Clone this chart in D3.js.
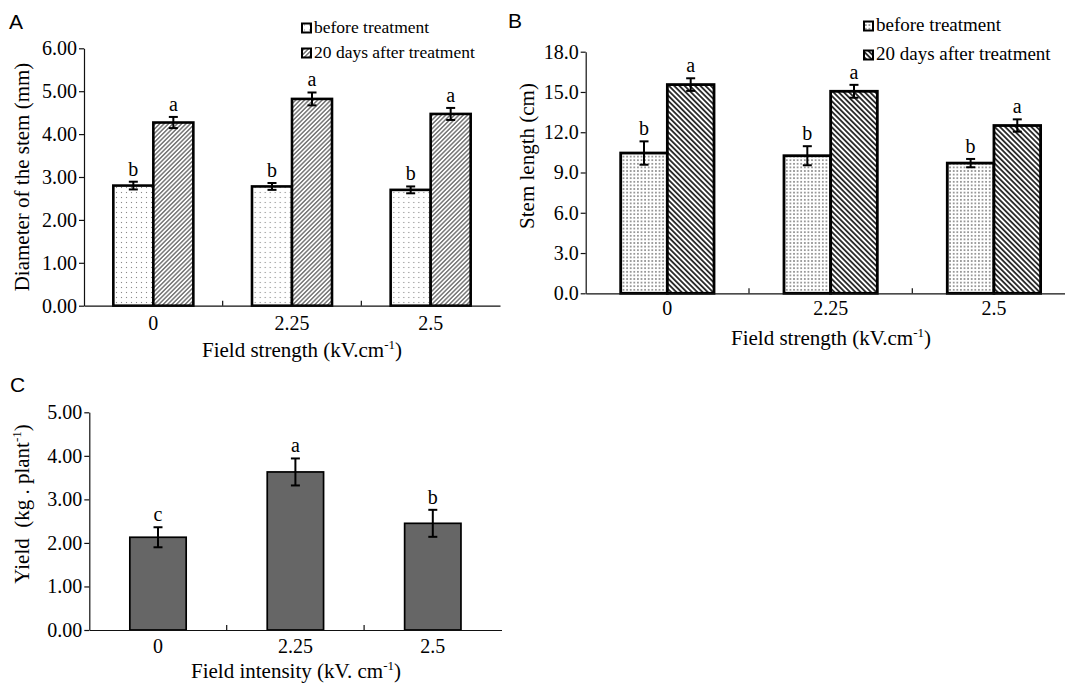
<!DOCTYPE html>
<html>
<head>
<meta charset="utf-8">
<script src="https://cdn.jsdelivr.net/npm/d3@7"></script>
<style>
  body { margin: 0; background: #fff; }
  text { font-family: "Liberation Serif", "Times New Roman", serif; fill: #000; }
  .panel-letter { font-family: "Liberation Sans", Arial, sans-serif; font-size: 21px; }
  .axis text { font-family: "Liberation Serif", "Times New Roman", serif; font-size: 20px; fill: #000; }
  .axis path, .axis line { stroke: #111; stroke-width: 1.2; }
  .axis-label { font-size: 21px; white-space: pre; }
</style>
</head>
<body>
<div id="chart"></div>
<script>
// ---- data ----
const categories = ["0", "2.25", "2.5"];
const seriesNames = ["before treatment", "20 days after treatment"];

// A: diameter of the stem (mm)
const diamBefore = [2.80, 2.78, 2.70];
const diamBeforeErr = [0.09, 0.08, 0.08];
const diamAfter = [4.27, 4.82, 4.47];
const diamAfterErr = [0.13, 0.15, 0.14];
const diamTicks = [0, 1, 2, 3, 4, 5, 6];

// B: stem length (cm)
const stemBefore = [10.45, 10.25, 9.70];
const stemBeforeErr = [0.87, 0.71, 0.31];
const stemAfter = [15.55, 15.05, 12.50];
const stemAfterErr = [0.47, 0.48, 0.46];
const stemTicks = [0, 3, 6, 9, 12, 15, 18];

// letters of significance
const beforeLetters = ["b", "b", "b"];
const afterLetters = ["a", "a", "a"];

// C: yield (kg . plant-1)
const yieldValues = [2.13, 3.63, 2.45];
const yieldErr = [0.23, 0.31, 0.31];
const yieldLetters = ["c", "a", "b"];
const yieldTicks = [0, 1, 2, 3, 4, 5];

const width = 1065, height = 685;

const svg = d3.select("#chart")
  .append("svg")
  .attr("width", width)
  .attr("height", height)
  .attr("viewBox", `0 0 ${width} ${height}`);

svg.append("rect").attr("width", width).attr("height", height).attr("fill", "#fff");

// ---- fill patterns ----
const defs = svg.append("defs");

const dotPattern = (id, size, dot, color) => {
  const p = defs.append("pattern")
    .attr("id", id)
    .attr("patternUnits", "userSpaceOnUse")
    .attr("width", size).attr("height", size);
  p.append("rect").attr("width", size).attr("height", size).attr("fill", "#fff");
  p.append("rect")
    .attr("x", (size - dot) / 2).attr("y", (size - dot) / 2)
    .attr("width", dot).attr("height", dot)
    .attr("fill", color);
};

const hatchPattern = (id, gap, angle, sw, color) => {
  const p = defs.append("pattern")
    .attr("id", id)
    .attr("patternUnits", "userSpaceOnUse")
    .attr("width", gap).attr("height", gap)
    .attr("patternTransform", `rotate(${angle})`);
  p.append("rect").attr("width", gap).attr("height", gap).attr("fill", "#fff");
  p.append("line")
    .attr("x1", gap / 2).attr("y1", 0)
    .attr("x2", gap / 2).attr("y2", gap)
    .attr("stroke", color).attr("stroke-width", sw);
};

dotPattern("dotsA", 5, 1.1, "#8a8a8a");
hatchPattern("hatchA", 3.1, 45, 1.0, "#333");
dotPattern("dotsB", 3.6, 1.4, "#555");
hatchPattern("hatchB", 3.7, -45, 1.7, "#1a1a1a");

// superscript "-1" unit helper
const addUnitText = (sel, before, after) => {
  sel.append("tspan").text(before);
  sel.append("tspan").attr("dy", -8).attr("font-size", 13).text("-1");
  sel.append("tspan").attr("dy", 8).text(after);
};

// ---- grouped bar panel (A, B) ----
const drawGrouped = (cfg) => {
  const g = svg.append("g");

  const yScale = d3.scaleLinear()
    .domain([0, d3.max(cfg.ticks)])
    .range([cfg.y0, cfg.y1]);

  const xScale = d3.scaleBand()
    .domain(categories)
    .range([cfg.x0, cfg.x1]);

  const xSub = d3.scaleBand()
    .domain(seriesNames)
    .range([0, xScale.bandwidth()])
    .paddingOuter(cfg.outer);

  const rows = categories.map((c, i) => ({
    cat: c,
    vals: [
      { s: seriesNames[0], v: cfg.before[i], e: cfg.beforeErr[i], l: beforeLetters[i], fill: cfg.fills[0] },
      { s: seriesNames[1], v: cfg.after[i], e: cfg.afterErr[i], l: afterLetters[i], fill: cfg.fills[1] }
    ]
  }));

  const groups = g.selectAll("g.grp")
    .data(rows)
    .join("g")
    .attr("class", "grp")
    .attr("transform", d => `translate(${xScale(d.cat)},0)`);

  groups.selectAll("rect")
    .data(d => d.vals)
    .join("rect")
    .attr("x", d => xSub(d.s))
    .attr("y", d => yScale(d.v))
    .attr("width", xSub.bandwidth())
    .attr("height", d => yScale(0) - yScale(d.v))
    .attr("fill", d => `url(#${d.fill})`)
    .attr("stroke", "#000")
    .attr("stroke-width", cfg.barStroke);

  // error bars
  const eb = groups.selectAll("g.err")
    .data(d => d.vals)
    .join("g")
    .attr("class", "err")
    .attr("transform", d => `translate(${xSub(d.s) + xSub.bandwidth() / 2},0)`);
  eb.append("line")
    .attr("y1", d => yScale(d.v - d.e)).attr("y2", d => yScale(d.v + d.e))
    .attr("stroke", "#000").attr("stroke-width", 2);
  eb.append("line")
    .attr("x1", -4.5).attr("x2", 4.5)
    .attr("y1", d => yScale(d.v + d.e)).attr("y2", d => yScale(d.v + d.e))
    .attr("stroke", "#000").attr("stroke-width", 2);
  eb.append("line")
    .attr("x1", -4.5).attr("x2", 4.5)
    .attr("y1", d => yScale(d.v - d.e)).attr("y2", d => yScale(d.v - d.e))
    .attr("stroke", "#000").attr("stroke-width", 2);
  eb.append("text")
    .attr("text-anchor", "middle")
    .attr("y", d => yScale(d.v + d.e) - 6)
    .attr("font-size", 20)
    .text(d => d.l);

  // left axis
  g.append("g")
    .attr("class", "axis")
    .attr("transform", `translate(${cfg.x0},0)`)
    .call(d3.axisLeft(yScale)
      .tickValues(cfg.ticks)
      .tickFormat(d3.format(cfg.fmt))
      .tickSize(5)
      .tickPadding(2)
      .tickSizeOuter(0));

  // bottom axis
  const xAxis = g.append("g")
    .attr("class", "axis")
    .attr("transform", `translate(0,${cfg.y0})`)
    .call(d3.axisBottom(xScale).tickSize(0).tickPadding(cfg.labelPad).tickSizeOuter(0));

  xAxis.selectAll("line.sep")
    .data(categories.slice(1))
    .join("line")
    .attr("class", "sep")
    .attr("x1", d => xScale(d)).attr("x2", d => xScale(d))
    .attr("y1", 0).attr("y2", -5);

  // axis titles
  addUnitText(
    svg.append("text")
      .attr("class", "axis-label")
      .attr("text-anchor", "middle")
      .attr("x", cfg.xTitle[0]).attr("y", cfg.xTitle[1]),
    "Field strength (kV.cm", ")");

  svg.append("text")
    .attr("class", "axis-label")
    .attr("text-anchor", "middle")
    .attr("dy", "0.35em")
    .attr("transform", `translate(${cfg.yTitle[0]},${cfg.yTitle[1]}) rotate(-90)`)
    .text(cfg.yLabel);

  // legend
  const leg = svg.append("g")
    .attr("transform", `translate(${cfg.legend[0]},${cfg.legend[1]})`);
  const items = leg.selectAll("g")
    .data(seriesNames)
    .join("g")
    .attr("transform", (d, i) => `translate(0,${i * cfg.legendGap})`);
  items.append("rect")
    .attr("x", 0).attr("y", -9)
    .attr("width", 9).attr("height", 9)
    .attr("fill", (d, i) => `url(#${cfg.fills[i]})`)
    .attr("stroke", "#000").attr("stroke-width", 2);
  items.append("text")
    .attr("x", 12)
    .attr("font-size", cfg.legendSize)
    .text(d => d);

  svg.append("text")
    .attr("class", "panel-letter")
    .attr("x", cfg.letter[0]).attr("y", cfg.letter[1])
    .text(cfg.letterText);
};

drawGrouped({
  before: diamBefore, beforeErr: diamBeforeErr,
  after: diamAfter, afterErr: diamAfterErr,
  ticks: diamTicks, fmt: ".2f",
  x0: 84, x1: 500, y0: 305.7, y1: 48.3,
  outer: 0.733, barStroke: 2.6, labelPad: 10,
  fills: ["dotsA", "hatchA"],
  xTitle: [302, 357], yTitle: [22, 177], yLabel: "Diameter of the stem (mm)",
  legend: [302, 32.5], legendGap: 25, legendSize: 17.5,
  letter: [9, 29], letterText: "A"
});

drawGrouped({
  before: stemBefore, beforeErr: stemBeforeErr,
  after: stemAfter, afterErr: stemAfterErr,
  ticks: stemTicks, fmt: ".1f",
  x0: 585.7, x1: 1075.6, y0: 293.3, y1: 51.7,
  outer: 0.75, barStroke: 2.8, labelPad: 8,
  fills: ["dotsB", "hatchB"],
  xTitle: [831, 345], yTitle: [527, 156], yLabel: "Stem length (cm)",
  legend: [864, 30.5], legendGap: 29, legendSize: 19,
  letter: [508, 28], letterText: "B"
});

// ---- C: single bars ----
const gC = svg.append("g");

const yC = d3.scaleLinear()
  .domain([0, d3.max(yieldTicks)])
  .range([630, 412.3]);

const xC = d3.scaleBand()
  .domain(categories)
  .range([89.3, 501.5])
  .paddingInner(0.59)
  .paddingOuter(0.295);

const xCat = d3.scaleBand()
  .domain(categories)
  .range([89.3, 501.5]);

const yieldRows = categories.map((c, i) => ({ cat: c, v: yieldValues[i], e: yieldErr[i], l: yieldLetters[i] }));

gC.selectAll("rect")
  .data(yieldRows)
  .join("rect")
  .attr("x", d => xC(d.cat))
  .attr("y", d => yC(d.v))
  .attr("width", xC.bandwidth())
  .attr("height", d => yC(0) - yC(d.v))
  .attr("fill", "#666")
  .attr("stroke", "#000")
  .attr("stroke-width", 1.7);

const ebC = gC.selectAll("g.err")
  .data(yieldRows)
  .join("g")
  .attr("class", "err")
  .attr("transform", d => `translate(${xC(d.cat) + xC.bandwidth() / 2},0)`);
ebC.append("line")
  .attr("y1", d => yC(d.v - d.e)).attr("y2", d => yC(d.v + d.e))
  .attr("stroke", "#000").attr("stroke-width", 2);
ebC.append("line")
  .attr("x1", -4.5).attr("x2", 4.5)
  .attr("y1", d => yC(d.v + d.e)).attr("y2", d => yC(d.v + d.e))
  .attr("stroke", "#000").attr("stroke-width", 2);
ebC.append("line")
  .attr("x1", -4.5).attr("x2", 4.5)
  .attr("y1", d => yC(d.v - d.e)).attr("y2", d => yC(d.v - d.e))
  .attr("stroke", "#000").attr("stroke-width", 2);
ebC.append("text")
  .attr("text-anchor", "middle")
  .attr("y", d => yC(d.v + d.e) - 6)
  .attr("font-size", 20)
  .text(d => d.l);

gC.append("g")
  .attr("class", "axis")
  .attr("transform", "translate(89.3,0)")
  .call(d3.axisLeft(yC)
    .tickValues(yieldTicks)
    .tickFormat(d3.format(".2f"))
    .tickSize(5)
    .tickPadding(2)
    .tickSizeOuter(0));

const xAxisC = gC.append("g")
  .attr("class", "axis")
  .attr("transform", "translate(0,630)")
  .call(d3.axisBottom(xCat).tickSize(0).tickPadding(9).tickSizeOuter(0));

xAxisC.selectAll("line.sep")
  .data(categories.slice(1))
  .join("line")
  .attr("class", "sep")
  .attr("x1", d => xCat(d)).attr("x2", d => xCat(d))
  .attr("y1", 0).attr("y2", -5);

addUnitText(
  svg.append("text")
    .attr("class", "axis-label")
    .attr("text-anchor", "middle")
    .attr("x", 296).attr("y", 678),
  "Field intensity (kV. cm", ")");

addUnitText(
  svg.append("text")
    .attr("class", "axis-label")
    .attr("text-anchor", "middle")
    .attr("dy", "0.35em")
    .attr("transform", "translate(22,504) rotate(-90)"),
  "Yield  (kg . plant", ")");

svg.append("text")
  .attr("class", "panel-letter")
  .attr("x", 10).attr("y", 392)
  .text("C");
</script>
</body>
</html>
